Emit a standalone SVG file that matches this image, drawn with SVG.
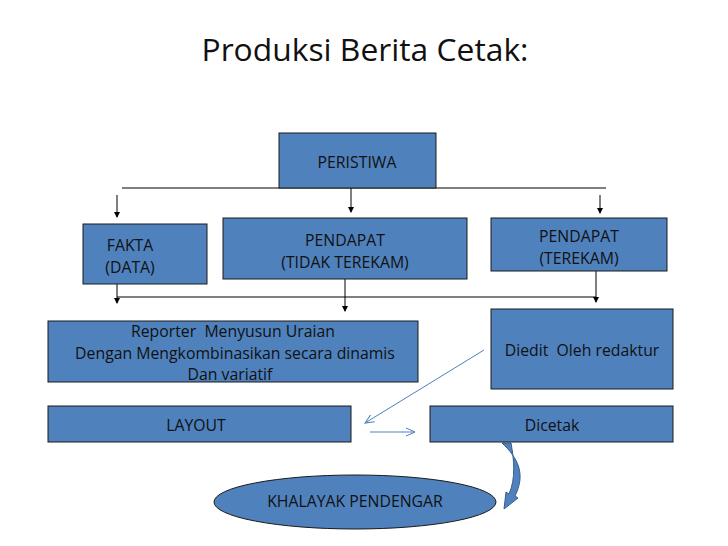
<svg xmlns="http://www.w3.org/2000/svg" width="728" height="546" viewBox="0 0 728 546">
<style>
.box{fill:#4F81BD;stroke:#1a1a1a;stroke-width:1}
.t{font-family:"Open Sans","Liberation Sans",Arial,sans-serif;font-size:15.8px;fill:#111;text-anchor:middle}
.ln{stroke:#000;stroke-width:1;fill:none}
.bl{stroke:#4F81BD;stroke-width:1;fill:none}
</style>
<defs>
<marker id="ah" viewBox="0 0 6 6" refX="5" refY="3" markerWidth="6" markerHeight="6" orient="auto" markerUnits="userSpaceOnUse">
<path d="M0,0 L6,3 L0,6 Z" fill="#000"/>
</marker>
<marker id="oa" viewBox="0 0 10 10" refX="9" refY="5" markerWidth="10" markerHeight="10" orient="auto" markerUnits="userSpaceOnUse">
<path d="M0,1 L9,5 L0,9" fill="none" stroke="#4F81BD" stroke-width="1"/>
</marker>
</defs>
<rect width="728" height="546" fill="#fff"/>
<text x="365" y="61" style="font-family:'Open Sans','Liberation Sans',Arial,sans-serif;font-size:31.8px;fill:#111;text-anchor:middle">Produksi Berita Cetak:</text>

<g id="connectors">
<line class="ln" x1="122" y1="188" x2="606" y2="188"/>
<line class="ln" x1="117" y1="195" x2="117" y2="217" marker-end="url(#ah)"/>
<line class="ln" x1="351" y1="188" x2="351" y2="212" marker-end="url(#ah)"/>
<line class="ln" x1="600" y1="195" x2="600" y2="213" marker-end="url(#ah)"/>
<line class="ln" x1="117" y1="297" x2="596" y2="297"/>
<line class="ln" x1="117" y1="284" x2="117" y2="303" marker-end="url(#ah)"/>
<line class="ln" x1="345" y1="279" x2="345" y2="311" marker-end="url(#ah)"/>
<line class="ln" x1="596" y1="271" x2="596" y2="302" marker-end="url(#ah)"/>
<line class="bl" x1="484" y1="350" x2="365" y2="423" marker-end="url(#oa)"/>
<line class="bl" x1="370" y1="432" x2="415" y2="432" marker-end="url(#oa)"/>
<path d="M502,443 C518,458 526,474 515,496 L518,498 L504,509 L506,492 L509,494 C516,478 514,460 511,443 Z" fill="#4F81BD" stroke="#385D8A" stroke-width="1"/>
</g>

<g id="peristiwa">
<rect class="box" x="279" y="133" width="157" height="55"/>
<text class="t" x="357" y="168">PERISTIWA</text>
</g>
<g id="fakta">
<rect class="box" x="83" y="224" width="124" height="60"/>
<text class="t" x="130" y="251">FAKTA</text>
<text class="t" x="130" y="273">(DATA)</text>
</g>
<g id="pendapat-tidak">
<rect class="box" x="223" y="218" width="244" height="61"/>
<text class="t" x="345" y="246">PENDAPAT</text>
<text class="t" x="345" y="268">(TIDAK TEREKAM)</text>
</g>
<g id="pendapat-terekam">
<rect class="box" x="491" y="218" width="176" height="53"/>
<text class="t" x="579" y="242">PENDAPAT</text>
<text class="t" x="579" y="264">(TEREKAM)</text>
</g>
<g id="reporter">
<rect class="box" x="48" y="321" width="370" height="61"/>
<text class="t" x="233" y="337" xml:space="preserve">Reporter  Menyusun Uraian</text>
<text class="t" x="235" y="359">Dengan Mengkombinasikan secara dinamis</text>
<text class="t" x="230" y="380">Dan variatif</text>
</g>
<g id="diedit">
<rect class="box" x="491" y="309" width="182" height="80"/>
<text class="t" x="582" y="356" xml:space="preserve">Diedit  Oleh redaktur</text>
</g>
<g id="layout">
<rect class="box" x="48" y="406" width="303" height="36"/>
<text class="t" x="196" y="431">LAYOUT</text>
</g>
<g id="dicetak">
<rect class="box" x="430" y="406" width="243" height="36"/>
<text class="t" x="552" y="431">Dicetak</text>
</g>
<g id="khalayak">
<ellipse class="box" cx="355" cy="502" rx="141" ry="27"/>
<text class="t" x="355" y="507">KHALAYAK PENDENGAR</text>
</g>
</svg>
